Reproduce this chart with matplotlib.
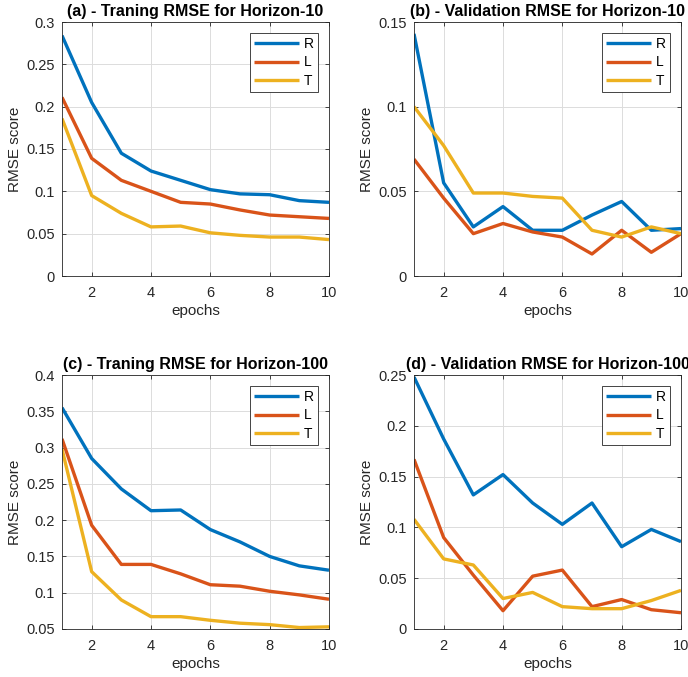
import matplotlib
matplotlib.use("Agg")
import matplotlib.pyplot as plt
from matplotlib.ticker import FormatStrFormatter

plt.rcParams["font.family"] = ["Liberation Sans", "DejaVu Sans"]

epochs = [1, 2, 3, 4, 5, 6, 7, 8, 9, 10]
labels = ["R", "L", "T"]
colors = ["#0072BD", "#D95319", "#EDB120"]

# (a) training, horizon 10
a_R = [0.284, 0.205, 0.145, 0.124, 0.113, 0.102, 0.097, 0.096, 0.089, 0.087]
a_L = [0.211, 0.139, 0.113, 0.100, 0.087, 0.085, 0.078, 0.072, 0.070, 0.068]
a_T = [0.186, 0.095, 0.074, 0.058, 0.059, 0.051, 0.048, 0.046, 0.046, 0.043]

# (b) validation, horizon 10
b_R = [0.143, 0.055, 0.029, 0.041, 0.027, 0.027, 0.036, 0.044, 0.027, 0.028]
b_L = [0.069, 0.046, 0.025, 0.031, 0.026, 0.023, 0.013, 0.027, 0.014, 0.025]
b_T = [0.100, 0.077, 0.049, 0.049, 0.047, 0.046, 0.027, 0.023, 0.029, 0.025]

# (c) training, horizon 100
c_R = [0.355, 0.285, 0.243, 0.213, 0.214, 0.187, 0.170, 0.150, 0.137, 0.131]
c_L = [0.312, 0.193, 0.139, 0.139, 0.126, 0.111, 0.109, 0.102, 0.097, 0.091]
c_T = [0.298, 0.129, 0.090, 0.067, 0.067, 0.062, 0.058, 0.056, 0.052, 0.053]

# (d) validation, horizon 100
d_R = [0.248, 0.187, 0.132, 0.152, 0.124, 0.103, 0.124, 0.081, 0.098, 0.086]
d_L = [0.167, 0.090, 0.053, 0.018, 0.052, 0.058, 0.022, 0.029, 0.019, 0.016]
d_T = [0.108, 0.069, 0.063, 0.030, 0.036, 0.022, 0.020, 0.020, 0.028, 0.038]

panels = [
    ("(a) - Traning RMSE for Horizon-10", [a_R, a_L, a_T], (0, 0.3), 0.05, [62, 22, 329, 276]),
    ("(b) - Validation RMSE for Horizon-10", [b_R, b_L, b_T], (0, 0.15), 0.05, [414, 22, 681, 276]),
    ("(c) - Traning RMSE for Horizon-100", [c_R, c_L, c_T], (0.05, 0.4), 0.05, [62, 375, 329, 629]),
    ("(d) - Validation RMSE for Horizon-100", [d_R, d_L, d_T], (0, 0.25), 0.05, [414, 375, 681, 629]),
]

W, H = 688, 677
fig = plt.figure(figsize=(W / 100, H / 100), dpi=100)
dark = "#262626"

for title, series, ylim, step, box in panels:
    x0, y0, x1, y1 = box
    ax = fig.add_axes([x0 / W, 1 - y1 / H, (x1 - x0) / W, (y1 - y0) / H])
    for s, lab, col in zip(series, labels, colors):
        ax.plot(epochs, s, color=col, lw=2.4, label=lab, solid_capstyle="butt")
    ax.set_xlim(1, 10)
    ax.set_ylim(*ylim)
    ax.set_xticks([2, 4, 6, 8, 10])
    n = int(round((ylim[1] - ylim[0]) / step))
    ax.set_yticks([round(ylim[0] + i * step, 3) for i in range(n + 1)])
    ax.yaxis.set_major_formatter(FormatStrFormatter("%g"))
    ax.grid(True, color="#dcdcdc", lw=0.7)
    ax.set_axisbelow(True)
    ax.tick_params(direction="in", top=True, right=True, length=3, width=0.6,
                   labelsize=10.5, colors=dark)
    ax.tick_params(axis="x", pad=7)
    ax.tick_params(axis="y", pad=5)
    for sp in ax.spines.values():
        sp.set_color(dark)
        sp.set_linewidth(0.6)
    ax.set_title(title, fontsize=11.5, fontweight="bold", color="black", pad=4)
    ax.set_xlabel("epochs", fontsize=11, color=dark, labelpad=3)
    ax.set_ylabel("RMSE score", fontsize=11, color=dark, labelpad=3)
    leg = ax.legend(loc="upper right", fontsize=10, handlelength=3.2, handletextpad=0.35,
                    borderpad=0.3, labelspacing=0.3, fancybox=False, framealpha=1,
                    borderaxespad=0.8)
    leg.get_frame().set_edgecolor(dark)
    leg.get_frame().set_linewidth(0.6)

fig.savefig("out.png", dpi=100)
